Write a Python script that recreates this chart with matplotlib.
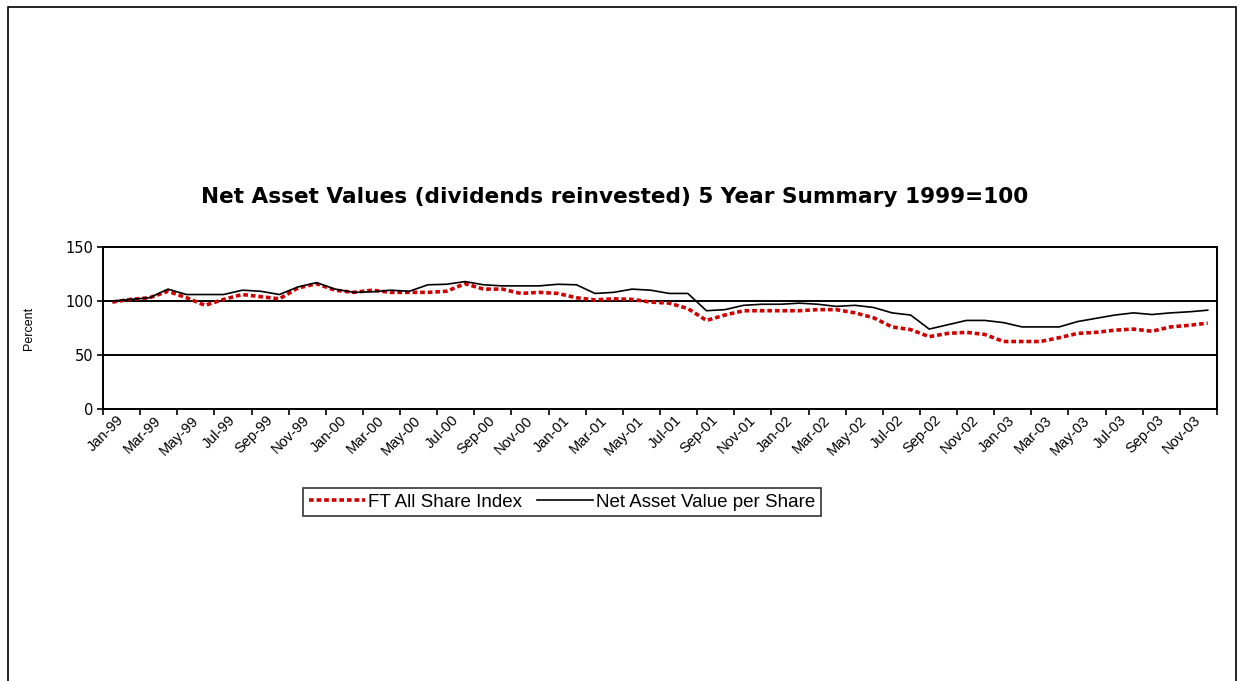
import numpy as np
import matplotlib.pyplot as plt
from matplotlib.patches import Rectangle

plt.rcParams['font.family'] = ['Liberation Sans', 'DejaVu Sans']

# Data bulanan Jan-99 .. Dec-03 (1999 = 100)
months = ["Jan", "Feb", "Mar", "Apr", "May", "Jun", "Jul", "Aug", "Sep", "Oct", "Nov", "Dec"]
years = ["99", "00", "01", "02", "03"]
labels = ["%s-%s" % (m, y) for y in years for m in months]

ft_index = [99, 101.5, 103, 109, 103, 96, 101.5, 106, 104, 102, 112, 116,
            110, 108, 110, 108, 108, 108, 109, 116, 111, 111, 107, 108,
            107, 103, 101, 102, 101.5, 99, 98, 93, 82, 87, 91, 91,
            91, 91, 92, 92, 89, 84.5, 76, 73.5, 67, 70, 71, 69,
            62.5, 62.5, 62.5, 66, 70, 71, 73, 74, 72, 76, 77.5, 79.5]
nav_share = [100, 101.5, 103, 111, 106, 106, 106, 110, 109, 106, 113, 117,
             111, 108, 108.5, 110, 109, 115, 115.5, 118, 115, 114, 114, 114,
             115.5, 115, 107, 108, 111, 110, 107, 107, 91, 92, 96, 97,
             97, 98, 97, 95, 96, 94, 89, 87, 74, 78, 82, 82,
             80, 76, 76, 76, 81, 84, 87, 89, 87.5, 89, 90, 91.5]

x = np.arange(len(labels))

fig = plt.figure(figsize=(12.44, 6.81), dpi=100)
fig.patches.append(Rectangle((8 / 1244, -0.01), 1228 / 1244, 1 - 7 / 681 + 0.01,
                             transform=fig.transFigure, fill=False,
                             edgecolor="black", lw=1.2))

ax = fig.add_axes([103 / 1244, 1 - 409 / 681, 1114 / 1244, 162 / 681])
ax.plot(x, ft_index, color="#d00000", lw=2.6, ls=(0, (1.3, 0.8)), label="FT All Share Index")
ax.plot(x, nav_share, color="black", lw=1.2, label="Net Asset Value per Share")

ax.set_xlim(-0.5, len(labels) - 0.5)
ax.set_ylim(0, 150)
ax.set_yticks([0, 50, 100, 150])
ax.set_yticklabels(["0", "50", "100", "150"], family="DejaVu Sans", fontsize=10.5)
ax.tick_params(axis="y", length=4, width=1.2, direction="out", pad=3)
for v in [50, 100]:
    ax.axhline(v, color="black", lw=1.4, zorder=1)

ax.set_xticks(np.arange(-0.5, len(labels), 2))
ax.set_xticklabels([])
ax.tick_params(axis="x", which="major", length=4, width=1.2, direction="out")
ax.set_xticks(x[::2] + 0.25, minor=True)
ax.set_xticklabels(labels[::2], minor=True, rotation=45, ha="right", va="top",
                   rotation_mode="anchor", fontsize=10.5)
ax.tick_params(axis="x", which="minor", length=0, pad=3)

for s in ax.spines.values():
    s.set_linewidth(1.4)

ax.set_ylabel("Percent", fontsize=9, labelpad=22)

fig.text(0.494, 1 - 197 / 681, "Net Asset Values (dividends reinvested) 5 Year Summary 1999=100",
         ha="center", va="center", fontsize=15.6, fontweight="bold", family="DejaVu Sans")

leg = fig.legend(loc="center", bbox_to_anchor=(562 / 1244, 1 - 502 / 681), ncol=2,
                 fontsize=13.5, frameon=True, fancybox=False, edgecolor="black",
                 handlelength=3.0, handletextpad=0.15, columnspacing=0.8,
                 borderpad=0.3)
leg.get_frame().set_linewidth(1.2)

fig.savefig("out.png", dpi=100)
